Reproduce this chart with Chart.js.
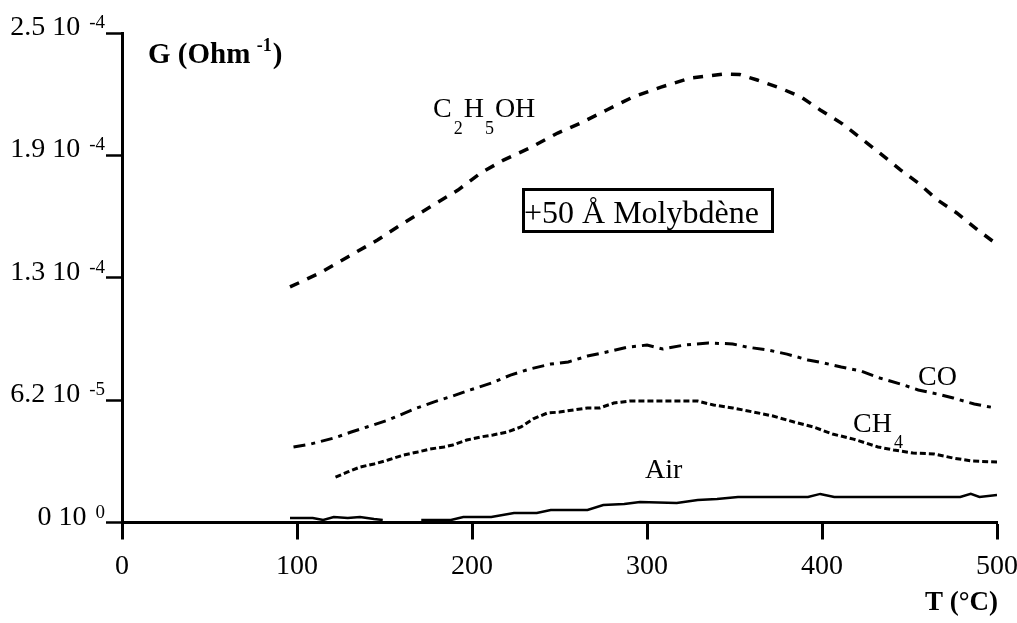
<!DOCTYPE html>
<html>
<head>
    <title>G vs T - Molybdène</title>
    <script src="https://cdn.jsdelivr.net/npm/chart.js"></script>
    <style>
        body { margin: 0; background: #fff; }
        #wrap { width: 1017px; height: 623px; }
    </style>
</head>
<body>
    <div id="wrap"><canvas id="gChart"></canvas></div>
    <script>
        // x axis ticks (T in °C)
        const xTicks = [0, 100, 200, 300, 400, 500];
        // y axis ticks (G in Ohm^-1) and their printed labels (mantissa + exponent)
        const yTicks = [0, 6.25e-5, 1.25e-4, 1.875e-4, 2.5e-4];
        const yTickText = ['0 10', '6.2 10', '1.3 10', '1.9 10', '2.5 10'];
        const yTickExp = ['0', '-5', '-4', '-4', '-4'];

        // C2H5OH
        const ethT = [96, 113, 129, 146, 161, 176, 192, 205, 218, 233, 249, 262, 277, 292, 308, 325, 344, 353, 363, 376, 388, 399, 411, 422, 433, 445, 455, 466, 477, 489, 499];
        const ethG = [1.203e-4, 1.274e-4, 1.356e-4, 1.443e-4, 1.530e-4, 1.611e-4, 1.698e-4, 1.785e-4, 1.851e-4, 1.913e-4, 1.989e-4, 2.040e-4, 2.107e-4, 2.173e-4, 2.224e-4, 2.270e-4, 2.290e-4, 2.288e-4, 2.260e-4, 2.219e-4, 2.173e-4, 2.107e-4, 2.040e-4, 1.964e-4, 1.887e-4, 1.800e-4, 1.734e-4, 1.647e-4, 1.581e-4, 1.494e-4, 1.427e-4];

        // CO
        const coT = [98, 108, 121, 131, 140, 152, 167, 178, 189, 199, 211, 222, 233, 245, 255, 266, 277, 289, 300, 309, 321, 335, 349, 357, 369, 380, 392, 401, 411, 422, 433, 445, 455, 466, 475, 487, 499];
        const coG = [0.386e-4, 0.401e-4, 0.431e-4, 0.462e-4, 0.488e-4, 0.523e-4, 0.580e-4, 0.615e-4, 0.646e-4, 0.677e-4, 0.712e-4, 0.753e-4, 0.784e-4, 0.809e-4, 0.820e-4, 0.850e-4, 0.871e-4, 0.896e-4, 0.906e-4, 0.886e-4, 0.906e-4, 0.917e-4, 0.912e-4, 0.896e-4, 0.881e-4, 0.860e-4, 0.830e-4, 0.815e-4, 0.794e-4, 0.774e-4, 0.738e-4, 0.707e-4, 0.677e-4, 0.656e-4, 0.636e-4, 0.605e-4, 0.585e-4];

        // CH4
        const ch4T = [122, 129, 136, 144, 152, 161, 169, 176, 184, 189, 197, 205, 212, 220, 228, 235, 243, 250, 258, 266, 273, 281, 290, 302, 315, 329, 338, 349, 361, 372, 384, 395, 406, 418, 432, 441, 452, 464, 475, 486, 500];
        const ch4G = [0.232e-4, 0.258e-4, 0.283e-4, 0.299e-4, 0.319e-4, 0.345e-4, 0.360e-4, 0.375e-4, 0.386e-4, 0.396e-4, 0.421e-4, 0.437e-4, 0.447e-4, 0.462e-4, 0.488e-4, 0.529e-4, 0.559e-4, 0.564e-4, 0.575e-4, 0.585e-4, 0.585e-4, 0.610e-4, 0.620e-4, 0.620e-4, 0.620e-4, 0.620e-4, 0.600e-4, 0.585e-4, 0.564e-4, 0.544e-4, 0.513e-4, 0.488e-4, 0.452e-4, 0.426e-4, 0.386e-4, 0.370e-4, 0.355e-4, 0.350e-4, 0.329e-4, 0.314e-4, 0.309e-4];

        // Air (null = gap in the trace)
        const airT = [96, 109, 115, 121, 129, 136, 144, 149, 160, 171, 188, 195, 211, 224, 237, 245, 266, 275, 287, 296, 317, 329, 340, 352, 392, 399, 407, 479, 485, 490, 500];
        const airG = [0.023e-4, 0.023e-4, 0.013e-4, 0.028e-4, 0.023e-4, 0.028e-4, 0.018e-4, 0.013e-4, null, 0.013e-4, 0.013e-4, 0.028e-4, 0.028e-4, 0.049e-4, 0.049e-4, 0.064e-4, 0.064e-4, 0.089e-4, 0.094e-4, 0.105e-4, 0.100e-4, 0.115e-4, 0.120e-4, 0.130e-4, 0.130e-4, 0.146e-4, 0.130e-4, 0.130e-4, 0.146e-4, 0.130e-4, 0.140e-4];

        const FONT = '"Liberation Serif", "Times New Roman", serif';

        function pts(xs, ys) {
            return xs.map((x, i) => ({ x: x, y: ys[i] }));
        }

        // draws a piece of text at a given size, returns end x
        function drawPiece(ctx, text, x, y, size, bold) {
            ctx.font = (bold ? 'bold ' : '') + size + 'px ' + FONT;
            ctx.fillText(text, x, y);
            return x + ctx.measureText(text).width;
        }

        const labelsPlugin = {
            id: 'labels',
            afterDraw(chart) {
                const ctx = chart.ctx;
                const xs = chart.scales.x;
                const ys = chart.scales.y;
                ctx.save();
                ctx.fillStyle = '#000';
                ctx.textBaseline = 'alphabetic';
                ctx.textAlign = 'left';

                // y tick labels, right edge of exponent at x=105
                yTicks.forEach((v, i) => {
                    const py = ys.getPixelForValue(v);
                    ctx.font = '28px ' + FONT;
                    const w1 = ctx.measureText(yTickText[i]).width;
                    ctx.font = '19px ' + FONT;
                    const w2 = ctx.measureText(yTickExp[i]).width;
                    const x0 = 105 - w2 - 9 - w1;
                    drawPiece(ctx, yTickText[i], x0, py + 2, 28);
                    drawPiece(ctx, yTickExp[i], x0 + w1 + 9, py - 5, 19);
                });

                // x tick labels
                ctx.textAlign = 'center';
                ctx.font = '28px ' + FONT;
                xTicks.forEach(v => {
                    ctx.fillText(String(v), xs.getPixelForValue(v), 574);
                });
                ctx.textAlign = 'left';

                // axis titles
                let x = drawPiece(ctx, 'G (Ohm', 148, 63, 29, true);
                x = drawPiece(ctx, ' -1', x + 2, 51, 18, true);
                drawPiece(ctx, ')', x + 1, 63, 29, true);
                ctx.textAlign = 'right';
                ctx.font = 'bold 27px ' + FONT;
                ctx.fillText('T (°C)', 998, 610);
                ctx.textAlign = 'left';

                // series labels
                x = drawPiece(ctx, 'C', 433, 117, 28);
                x = drawPiece(ctx, '2', x + 2, 134, 18);
                x = drawPiece(ctx, 'H', x + 1, 117, 28);
                x = drawPiece(ctx, '5', x + 1, 134, 18);
                drawPiece(ctx, 'OH', x + 1, 117, 28);

                drawPiece(ctx, 'CO', 918, 385, 28);
                x = drawPiece(ctx, 'CH', 853, 432, 28);
                drawPiece(ctx, '4', x + 2, 448, 18);
                drawPiece(ctx, 'Air', 645, 478, 28);

                // boxed note
                ctx.lineWidth = 3;
                ctx.strokeStyle = '#000';
                ctx.strokeRect(523.5, 189.5, 249, 42);
                ctx.font = '32px ' + FONT;
                ctx.fillText('+50 Å Molybdène', 524, 223);
                ctx.restore();
            }
        };

        const ctx = document.getElementById('gChart').getContext('2d');
        new Chart(ctx, {
            type: 'line',
            data: {
                datasets: [{
                    label: 'C2H5OH',
                    data: pts(ethT, ethG),
                    borderColor: '#000',
                    borderWidth: 3.5,
                    borderDash: [10, 9],
                }, {
                    label: 'CO',
                    data: pts(coT, coG),
                    borderColor: '#000',
                    borderWidth: 3,
                    borderDash: [12, 6, 4, 6],
                }, {
                    label: 'CH4',
                    data: pts(ch4T, ch4G),
                    borderColor: '#000',
                    borderWidth: 3,
                    borderDash: [6, 3],
                }, {
                    label: 'Air',
                    data: pts(airT, airG),
                    borderColor: '#000',
                    borderWidth: 2.5,
                    spanGaps: false,
                }]
            },
            options: {
                responsive: true,
                maintainAspectRatio: false,
                animation: false,
                layout: { padding: { left: 0, top: 33, right: 20, bottom: 0 } },
                elements: { point: { radius: 0 }, line: { tension: 0, fill: false } },
                plugins: { legend: { display: false }, tooltip: { enabled: false } },
                scales: {
                    x: {
                        type: 'linear',
                        min: 0,
                        max: 500,
                        afterBuildTicks: s => { s.ticks = xTicks.map(v => ({ value: v })); },
                        afterFit: s => { s.height = 100.5; },
                        ticks: { display: false },
                        grid: { drawOnChartArea: false, drawTicks: true, tickLength: 17, tickWidth: 3, tickColor: '#000' },
                        border: { color: '#000', width: 3 }
                    },
                    y: {
                        type: 'linear',
                        min: 0,
                        max: 2.5e-4,
                        afterBuildTicks: s => { s.ticks = yTicks.map(v => ({ value: v })); },
                        afterFit: s => { s.width = 122; },
                        ticks: { display: false },
                        grid: { drawOnChartArea: false, drawTicks: true, tickLength: 16, tickWidth: 2.5, tickColor: '#000' },
                        border: { color: '#000', width: 3 }
                    }
                }
            },
            plugins: [labelsPlugin]
        });
    </script>
</body>
</html>
